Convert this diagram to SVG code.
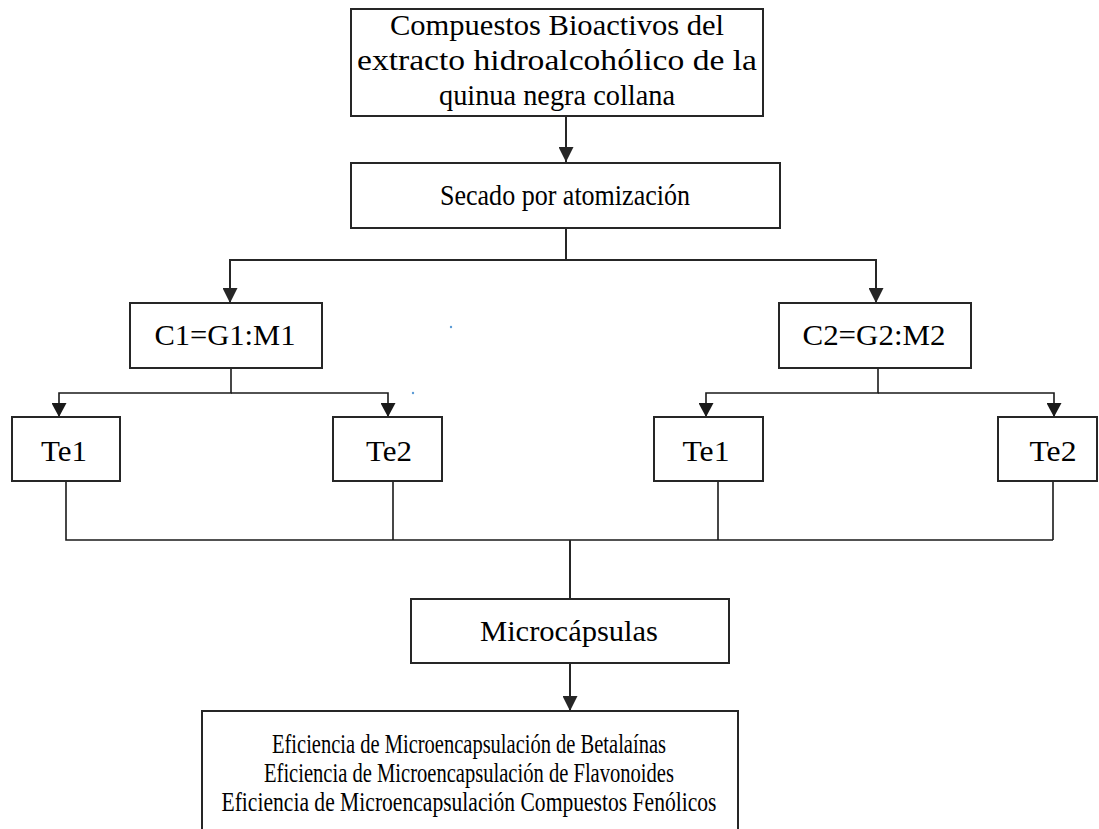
<svg xmlns="http://www.w3.org/2000/svg" width="1099" height="829" viewBox="0 0 1099 829">
<style>
.box{fill:#fff;stroke:#262626;stroke-width:2}
.t{font-family:"Liberation Serif","Times New Roman",serif;font-size:30px;fill:#000}
.tb{font-family:"Liberation Serif","Times New Roman",serif;font-size:27px;fill:#000}
.c{fill:none;stroke:#262626;stroke-width:2}
.cs{fill:none;stroke:#1a1a1a;stroke-width:1.6}
</style>
<defs>
<marker id="ah" markerUnits="userSpaceOnUse" markerWidth="15" markerHeight="15" refX="15" refY="7.5" orient="auto">
<path d="M0,0 L15,7.5 L0,15 z" fill="#262626"/>
</marker>
<marker id="as" markerUnits="userSpaceOnUse" markerWidth="14" markerHeight="15" refX="14" refY="7.5" orient="auto">
<path d="M0,0 L14,7.5 L0,15 z" fill="#1a1a1a"/>
</marker>
</defs>
<rect width="1099" height="829" fill="#fff"/>
<g id="connectors">
<path class="c" d="M566,116 V162" marker-end="url(#ah)"/>
<path class="c" d="M566,228 V260 H230 V303" marker-end="url(#ah)"/>
<path class="c" d="M566,260 H876 V303" marker-end="url(#ah)"/>
<path class="cs" d="M231,368 V393 H59 V417" marker-end="url(#as)"/>
<path class="cs" d="M231,393 H388 V417" marker-end="url(#as)"/>
<path class="cs" d="M878,368 V393 H706 V417" marker-end="url(#as)"/>
<path class="cs" d="M878,393 H1054 V417" marker-end="url(#as)"/>
<path class="cs" d="M66,481 V540 H1053 M393,481 V540 M718,481 V540 M1053,481 V540"/>
<path class="c" d="M570,540 V599"/>
<path class="c" d="M570,663 V711" marker-end="url(#ah)"/>
</g>
<g id="n-top">
<rect class="box" x="351" y="9" width="412" height="107"/>
<text class="t" x="557" y="35" text-anchor="middle" textLength="334" lengthAdjust="spacingAndGlyphs">Compuestos Bioactivos del</text>
<text class="t" x="557" y="70" text-anchor="middle" textLength="400" lengthAdjust="spacingAndGlyphs">extracto hidroalcohólico  de la</text>
<text class="t" x="557" y="105" text-anchor="middle" textLength="236" lengthAdjust="spacingAndGlyphs">quinua negra collana</text>
</g>
<g id="n-secado">
<rect class="box" x="351" y="163" width="429" height="65"/>
<text class="t" x="565" y="205" text-anchor="middle" textLength="250" lengthAdjust="spacingAndGlyphs">Secado por atomización</text>
</g>
<g id="n-c1">
<rect class="box" x="130" y="303" width="192" height="65"/>
<text class="t" x="225" y="345" text-anchor="middle" textLength="141" lengthAdjust="spacingAndGlyphs">C1=G1:M1</text>
</g>
<g id="n-c2">
<rect class="box" x="779" y="303" width="192" height="65"/>
<text class="t" x="874" y="345" text-anchor="middle" textLength="143" lengthAdjust="spacingAndGlyphs">C2=G2:M2</text>
</g>
<g id="n-te1a">
<rect class="box" x="12" y="417" width="108" height="64"/>
<text class="t" x="64" y="461" text-anchor="middle" textLength="46" lengthAdjust="spacingAndGlyphs">Te1</text>
</g>
<g id="n-te2a">
<rect class="box" x="333" y="417" width="109" height="64"/>
<text class="t" x="389" y="461" text-anchor="middle" textLength="46" lengthAdjust="spacingAndGlyphs">Te2</text>
</g>
<g id="n-te1b">
<rect class="box" x="654" y="417" width="109" height="64"/>
<text class="t" x="706" y="461" text-anchor="middle" textLength="47" lengthAdjust="spacingAndGlyphs">Te1</text>
</g>
<g id="n-te2b">
<rect class="box" x="998" y="417" width="99" height="64"/>
<text class="t" x="1053" y="461" text-anchor="middle" textLength="47" lengthAdjust="spacingAndGlyphs">Te2</text>
</g>
<g id="n-micro">
<rect class="box" x="411" y="599" width="318" height="64"/>
<text class="t" x="569" y="641" text-anchor="middle" textLength="178" lengthAdjust="spacingAndGlyphs">Microcápsulas</text>
</g>
<g id="n-eficiencia">
<rect class="box" x="202" y="711" width="536" height="140"/>
<text class="tb" x="469" y="753" text-anchor="middle" textLength="394" lengthAdjust="spacingAndGlyphs">Eficiencia de Microencapsulación de Betalaínas</text>
<text class="tb" x="469" y="782" text-anchor="middle" textLength="410" lengthAdjust="spacingAndGlyphs">Eficiencia de Microencapsulación de Flavonoides</text>
<text class="tb" x="469" y="811" text-anchor="middle" textLength="495" lengthAdjust="spacingAndGlyphs">Eficiencia de Microencapsulación Compuestos Fenólicos</text>
</g>
<circle cx="451" cy="327" r="1.2" fill="#5b9bd5"/>
<circle cx="413" cy="393" r="1.2" fill="#5b9bd5"/>
</svg>
